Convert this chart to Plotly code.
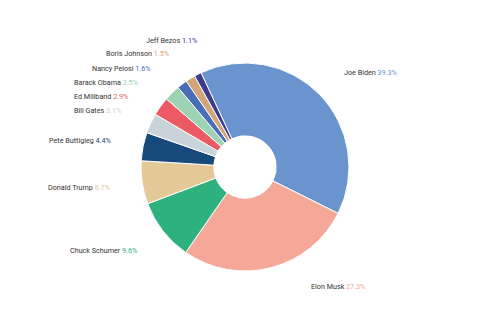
import math
import plotly.graph_objects as go

# Share of mentions per person (percent)
names = ["Joe Biden", "Elon Musk", "Chuck Schumer", "Donald Trump", "Pete Buttigieg",
         "Bill Gates", "Ed Miliband", "Barack Obama", "Nancy Pelosi", "Boris Johnson",
         "Jeff Bezos"]
shares = [39.3, 27.3, 9.6, 6.7, 4.4, 3.1, 2.9, 2.5, 1.6, 1.5, 1.1]
colors = ["#6a94cd", "#f5a898", "#2fb07f", "#e4c998", "#17497a", "#c9d3da",
          "#ec5b64", "#9dd3b4", "#4a6db7", "#d2a679", "#3e3a8e"]

W, H = 500, 330
CX, CY, R = 245, 167, 104          # pie centre and radius (px)
HOLE = 0.30
ROTATION = -25                     # first slice starts 25 deg left of 12 o'clock
LABEL_R = 135                      # radius of the label ring (px)
GAP = 14                           # minimum vertical spacing between labels (px)
TOP, BOTTOM = 40, 286
FONT = "Roboto"
TEXT_COLOR = "#333333"

fig = go.Figure(go.Pie(
    labels=names, values=shares, marker=dict(colors=colors, line=dict(color="white", width=1)),
    hole=HOLE, sort=False, direction="clockwise", rotation=ROTATION,
    textinfo="none", hoverinfo="label+percent", showlegend=False,
    domain=dict(x=[(CX - R) / W, (CX + R) / W], y=[1 - (CY + R) / H, 1 - (CY - R) / H]),
))

# Mid angle of every slice, measured clockwise from 12 o'clock
total = sum(shares)
mids, acc = [], 0.0
for v in shares:
    mids.append(math.radians(ROTATION + 360 * (acc + v / 2) / total))
    acc += v


def distribute(idx, ideal):
    """Spread labels on one side vertically so they do not overlap."""
    order = sorted(idx, key=lambda i: ideal[i])
    clusters = [[i] for i in order]

    def top(c):
        n = len(c)
        t = sum(ideal[i] for i in c) / n - (n - 1) * GAP / 2
        return min(max(t, TOP), BOTTOM - (n - 1) * GAP)

    merged = True
    while merged:
        merged = False
        for k in range(len(clusters) - 1):
            a, b = clusters[k], clusters[k + 1]
            if top(b) < top(a) + len(a) * GAP:
                clusters[k:k + 2] = [a + b]
                merged = True
                break
    pos = {}
    for c in clusters:
        t = top(c)
        for j, i in enumerate(c):
            pos[i] = t + j * GAP
    return pos


ideal = [CY - LABEL_R * math.cos(a) for a in mids]
right = [i for i, a in enumerate(mids) if math.sin(a) >= 0]
left = [i for i, a in enumerate(mids) if math.sin(a) < 0]
ypos = {**distribute(right, ideal), **distribute(left, ideal)}

for i, name in enumerate(names):
    y = ypos[i]
    dy = min(abs(y - CY), LABEL_R)
    dx = math.sqrt(LABEL_R ** 2 - dy ** 2)
    on_right = i in right
    x = CX + dx if on_right else CX - dx
    fig.add_annotation(
        x=x / W, y=1 - y / H, xref="paper", yref="paper",
        xanchor="left" if on_right else "right", yanchor="middle",
        showarrow=False,
        text=f"{name} <span style='color:{colors[i]}'>{shares[i]:.1f}%</span>",
        font=dict(family=FONT, size=7.2, color=TEXT_COLOR),
    )

fig.update_layout(
    width=W, height=H, margin=dict(l=0, r=0, t=0, b=0),
    paper_bgcolor="white", plot_bgcolor="white",
)

fig.write_html("out.html")
